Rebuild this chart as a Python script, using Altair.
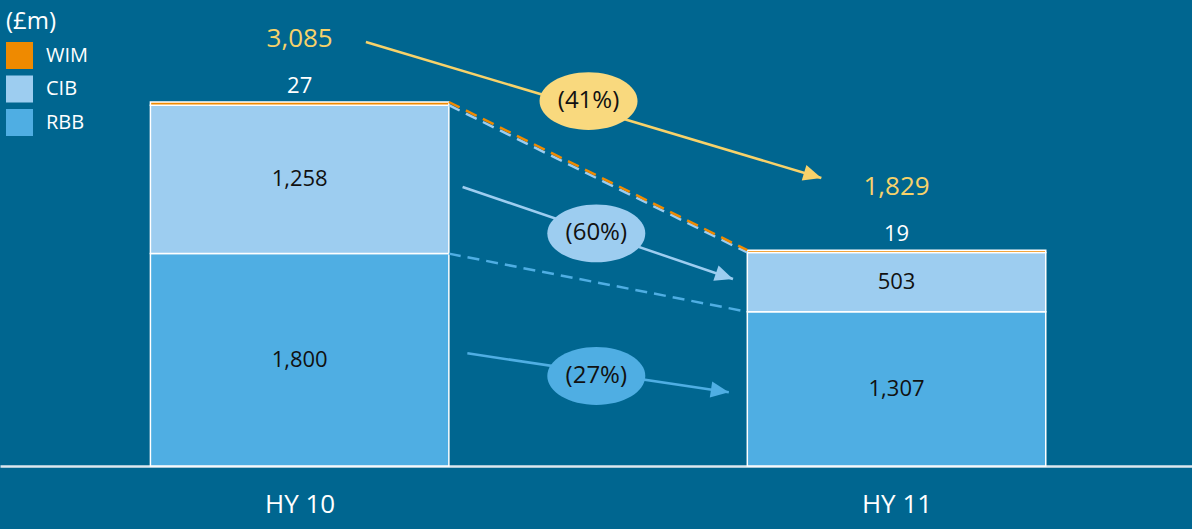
import json
import math
import altair as alt
import pandas as pd

# ---------------- data ----------------
periods = ["HY 10", "HY 11"]
rbb = [1800, 1307]
cib = [1258, 503]
wim = [27, 19]
totals = [3085, 1829]

segments = ["WIM", "CIB", "RBB"]
seg_colors = ["#EF8A00", "#9DCDF0", "#4FAEE3"]

# change annotations (arrow from -> to, in data units) and bubble positions
change_labels = ["(41%)", "(60%)", "(27%)"]
bubble_colors = ["#F9D97E", "#9DCDF0", "#4FAEE3"]
arrow_colors = ["#F7D26A", "#9DCDF0", "#4FAEE3"]
arrow_x0 = [0.111, 0.273, 0.281]
arrow_y0 = [3594, 2365, 955]
arrow_x1 = [0.874, 0.726, 0.719]
arrow_y1 = [2441, 1585, 625]
bubble_x = [0.484, 0.497, 0.497]
bubble_y = [3093, 1971, 763]

# ---------------- layout ----------------
W, H = 1192, 466
X_DOM = [-0.502, 1.495]
Y_DOM = [0, 3949.5]
HALF = 0.25
BG = "#006690"

kx = W / (X_DOM[1] - X_DOM[0])
ky = H / (Y_DOM[1] - Y_DOM[0])

xs = alt.Scale(domain=X_DOM, nice=False, zero=False)
ys = alt.Scale(domain=Y_DOM, nice=False, zero=False)
cs = alt.Scale(domain=segments, range=seg_colors)

# stacked segments
rows = []
for i, p in enumerate(periods):
    base = 0
    for seg, val in (("RBB", rbb[i]), ("CIB", cib[i]), ("WIM", wim[i])):
        rows.append(dict(period=p, pos=i, x=i - HALF, x2=i + HALF, seg=seg,
                         y0=base, y1=base + val, mid=base + val / 2,
                         label=f"{val:,}"))
        base += val
bars = pd.DataFrame(rows)

tot = pd.DataFrame(dict(pos=list(range(len(periods))), total=totals,
                        label=[f"{t:,}" for t in totals]))

# dashed connectors between segment tops
conn = []
for seg, tops in (("RBB", rbb),
                  ("CIB", [r + c for r, c in zip(rbb, cib)]),
                  ("WIM", totals)):
    conn.append(dict(seg=seg, x=HALF, x2=1 - HALF, y=tops[0], y2=tops[1]))
conn = pd.DataFrame(conn)

arrows = pd.DataFrame(dict(x0=arrow_x0, y0=arrow_y0, x1=arrow_x1, y1=arrow_y1,
                           color=arrow_colors))
arrows["angle"] = [
    math.degrees(math.atan2((a - b) * ky, (d - c) * kx)) % 360
    for a, b, c, d in zip(arrow_y0, arrow_y1, arrow_x0, arrow_x1)
]
bubbles = pd.DataFrame(dict(x=bubble_x, y=bubble_y, label=change_labels,
                            color=bubble_colors))

ELLIPSE = ("M 1 0 C 1 0.326 0.552 0.59 0 0.59 C -0.552 0.59 -1 0.326 -1 0 "
           "C -1 -0.326 -0.552 -0.59 0 -0.59 C 0.552 -0.59 1 -0.326 1 0 Z")
HEAD = "M 0 0 L -2 -0.9 L -2 0.9 Z"

FONT = "Open Sans"

x_axis = alt.Axis(values=list(range(len(periods))),
                  labelExpr=f"{json.dumps(periods)}[datum.value]",
                  title=None, ticks=False, tickSize=0, grid=False,
                  domain=True, domainColor="#DCE7EE", domainWidth=2.5,
                  labelFontSize=26, labelColor="white", labelFont=FONT,
                  labelPadding=38, labelBaseline="middle", labelFlush=False)

legend = alt.Legend(title="(£m)", orient="none", legendX=6, legendY=10,
                    symbolType="square", symbolSize=625,
                    symbolStrokeColor="white", symbolStrokeWidth=2,
                    symbolOpacity=1, labelFontSize=20, labelColor="white",
                    labelFont=FONT, titleFont=FONT, titleFontSize=24,
                    titleColor="white", titleFontWeight="normal",
                    rowPadding=0.5, labelOffset=13, titlePadding=8, padding=0)

bar_layer = alt.Chart(bars).mark_bar(stroke="white", strokeWidth=1.5).encode(
    x=alt.X("x:Q", scale=xs, axis=x_axis),
    x2="x2:Q",
    y=alt.Y("y0:Q", scale=ys, axis=None),
    y2="y1:Q",
    color=alt.Color("seg:N", scale=cs, legend=legend),
)

seg_text = alt.Chart(bars).transform_filter("datum.seg != 'WIM'").mark_text(
    fontSize=22, color="#111111", font=FONT, baseline="middle").encode(
    x=alt.X("pos:Q", scale=xs), y=alt.Y("mid:Q", scale=ys), text="label:N")

wim_text = alt.Chart(bars).transform_filter("datum.seg == 'WIM'").mark_text(
    fontSize=22, color="white", font=FONT, baseline="middle", dy=-16).encode(
    x=alt.X("pos:Q", scale=xs), y=alt.Y("y1:Q", scale=ys), text="label:N")

tot_text = alt.Chart(tot).mark_text(
    fontSize=26, color="#F7D26A", font=FONT, baseline="middle", dy=-63).encode(
    x=alt.X("pos:Q", scale=xs), y=alt.Y("total:Q", scale=ys), text="label:N")

conn_layer = alt.Chart(conn).mark_rule(strokeDash=[12, 7], strokeWidth=2.5).encode(
    x=alt.X("x:Q", scale=xs), x2="x2:Q",
    y=alt.Y("y:Q", scale=ys), y2="y2:Q",
    color=alt.Color("seg:N", scale=cs, legend=None))

arrow_lines = alt.Chart(arrows).mark_rule(strokeWidth=2.5).encode(
    x=alt.X("x0:Q", scale=xs), x2="x1:Q",
    y=alt.Y("y0:Q", scale=ys), y2="y1:Q",
    color=alt.Color("color:N", scale=None))

arrow_heads = alt.Chart(arrows).mark_point(
    shape=HEAD, filled=True, size=324, opacity=1, strokeWidth=0).encode(
    x=alt.X("x1:Q", scale=xs), y=alt.Y("y1:Q", scale=ys),
    angle=alt.Angle("angle:Q", scale=None),
    color=alt.Color("color:N", scale=None))

bubble_layer = alt.Chart(bubbles).mark_point(
    shape=ELLIPSE, filled=True, size=98 * 98, opacity=1, strokeWidth=0).encode(
    x=alt.X("x:Q", scale=xs), y=alt.Y("y:Q", scale=ys),
    color=alt.Color("color:N", scale=None))

bubble_text = alt.Chart(bubbles).mark_text(
    fontSize=24, color="#111111", font=FONT, baseline="middle").encode(
    x=alt.X("x:Q", scale=xs), y=alt.Y("y:Q", scale=ys), text="label:N")

chart = alt.layer(
    bar_layer, seg_text, wim_text, tot_text, conn_layer,
    arrow_lines, arrow_heads, bubble_layer, bubble_text,
).properties(
    width=W, height=H,
    autosize=alt.AutoSizeParams(type="none"),
    padding={"left": 0, "right": 0, "top": 0, "bottom": 63},
    background=BG,
).configure(font=FONT).configure_view(stroke=None, strokeWidth=0)

chart.save("out.html", embed_options={"renderer": "svg", "actions": False})
